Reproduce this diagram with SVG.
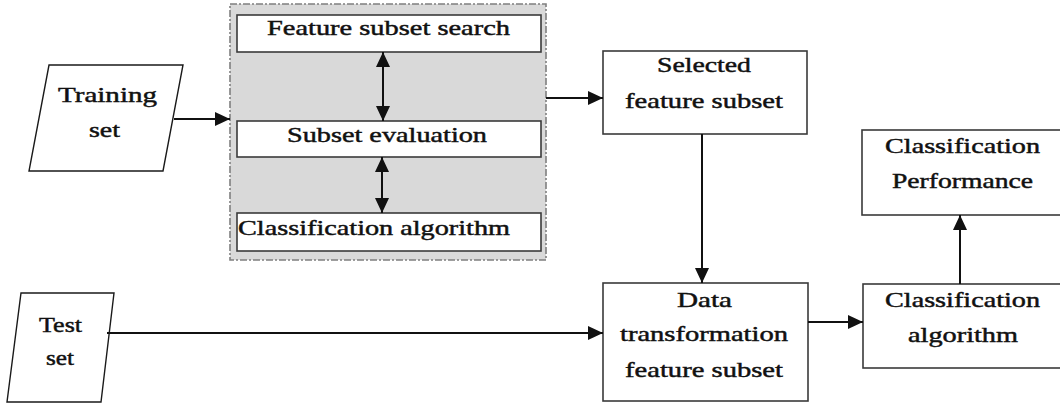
<svg xmlns="http://www.w3.org/2000/svg" width="1060" height="403" viewBox="0 0 1060 403">
  <style>
    .box { fill: #ffffff; stroke: #3a3a3a; stroke-width: 1.6; }
    .io { fill: #ffffff; stroke: #1a1a1a; stroke-width: 1.4; }
    .group { fill: #d9d9d9; stroke: #7f7f7f; stroke-width: 1.6; stroke-dasharray: 7 2 2 2; }
    .lbl { font-family: "Liberation Serif", "Times New Roman", serif; font-size: 21px; fill: #111111; stroke: #111111; stroke-width: 0.45; }
    .edge { fill: none; stroke: #111111; stroke-width: 2; }
  </style>
  <defs>
    <marker id="head" markerUnits="userSpaceOnUse" markerWidth="16" markerHeight="14" refX="15" refY="7" orient="auto">
      <path d="M0,0 L15,7 L0,14 Z" fill="#111111"/>
    </marker>
    <marker id="tail" markerUnits="userSpaceOnUse" markerWidth="16" markerHeight="14" refX="1" refY="7" orient="auto">
      <path d="M16,0 L1,7 L16,14 Z" fill="#111111"/>
    </marker>
  </defs>

  <!-- wrapper search loop -->
  <g id="wrapper">
    <rect class="group" x="230" y="4" width="316" height="256"/>
  </g>
  <g id="feature-search">
    <rect class="box" x="237" y="15" width="304" height="37"/>
    <text class="lbl" x="267" y="35" textLength="243" lengthAdjust="spacingAndGlyphs">Feature subset search</text>
  </g>
  <g id="subset-eval">
    <rect class="box" x="237" y="121" width="304" height="36"/>
    <text class="lbl" x="287" y="142" textLength="200" lengthAdjust="spacingAndGlyphs">Subset evaluation</text>
  </g>
  <g id="inner-classifier">
    <rect class="box" x="237" y="213" width="304" height="38"/>
    <text class="lbl" x="238" y="235" textLength="272" lengthAdjust="spacingAndGlyphs">Classification algorithm</text>
  </g>

  <!-- data inputs -->
  <g id="training-set">
    <polygon class="io" points="49,65 183,65 163,171 29,171"/>
    <text class="lbl" x="58" y="102" textLength="99" lengthAdjust="spacingAndGlyphs">Training</text>
    <text class="lbl" x="89" y="137" textLength="31" lengthAdjust="spacingAndGlyphs">set</text>
  </g>
  <g id="test-set">
    <polygon class="io" points="21,293 114,293 101,402 7,402"/>
    <text class="lbl" x="39" y="332" textLength="43" lengthAdjust="spacingAndGlyphs">Test</text>
    <text class="lbl" x="46" y="365" textLength="28" lengthAdjust="spacingAndGlyphs">set</text>
  </g>

  <!-- processing boxes -->
  <g id="selected-subset">
    <rect class="box" x="603" y="51" width="204" height="83"/>
    <text class="lbl" x="657" y="72" textLength="94" lengthAdjust="spacingAndGlyphs">Selected</text>
    <text class="lbl" x="625" y="108" textLength="158" lengthAdjust="spacingAndGlyphs">feature subset</text>
  </g>
  <g id="data-transform">
    <rect class="box" x="603" y="283" width="205" height="118"/>
    <text class="lbl" x="677" y="307" textLength="55" lengthAdjust="spacingAndGlyphs">Data</text>
    <text class="lbl" x="620" y="341" textLength="168" lengthAdjust="spacingAndGlyphs">transformation</text>
    <text class="lbl" x="625" y="377" textLength="158" lengthAdjust="spacingAndGlyphs">feature subset</text>
  </g>
  <g id="classifier">
    <rect class="box" x="863" y="284" width="200" height="84"/>
    <text class="lbl" x="885" y="307" textLength="155" lengthAdjust="spacingAndGlyphs">Classification</text>
    <text class="lbl" x="908" y="342" textLength="110" lengthAdjust="spacingAndGlyphs">algorithm</text>
  </g>
  <g id="performance">
    <rect class="box" x="862" y="130" width="201" height="85"/>
    <text class="lbl" x="885" y="153" textLength="155" lengthAdjust="spacingAndGlyphs">Classification</text>
    <text class="lbl" x="892" y="188" textLength="141" lengthAdjust="spacingAndGlyphs">Performance</text>
  </g>

  <!-- connectors -->
  <g id="connectors">
    <line class="edge" x1="174" y1="119" x2="230" y2="119" marker-end="url(#head)"/>
    <line class="edge" x1="383" y1="52" x2="383" y2="121" marker-start="url(#tail)" marker-end="url(#head)"/>
    <line class="edge" x1="382" y1="157" x2="382" y2="213" marker-start="url(#tail)" marker-end="url(#head)"/>
    <line class="edge" x1="546" y1="98" x2="603" y2="98" marker-end="url(#head)"/>
    <line class="edge" x1="702" y1="134" x2="702" y2="283" marker-end="url(#head)"/>
    <line class="edge" x1="107" y1="333" x2="603" y2="333" marker-end="url(#head)"/>
    <line class="edge" x1="808" y1="322" x2="863" y2="322" marker-end="url(#head)"/>
    <line class="edge" x1="960" y1="284" x2="960" y2="215" marker-end="url(#head)"/>
  </g>
</svg>
